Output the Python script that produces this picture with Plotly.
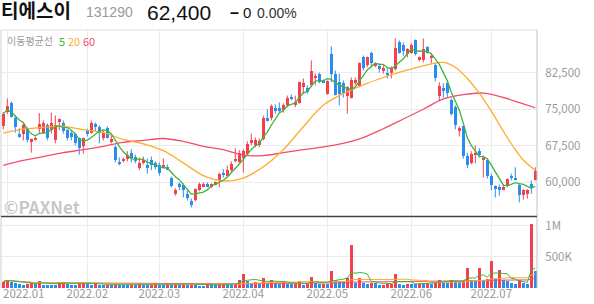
import plotly.graph_objects as go
import pandas as pd

# ---------------- data ----------------
month_labels = ["2022.01", "2022.02", "2022.03", "2022.04", "2022.05", "2022.06", "2022.07"]
month_start_idx = [1, 21, 39, 60, 81, 102, 122]

opens = [71500, 74500, 76200, 73300, 70000, 70000, 70900, 68200, 68800, 71000,
         70200, 71700, 70700, 68600, 72300, 72100, 70700, 70200, 70000, 69000,
         67400, 70700, 70200, 71900, 71300, 69000, 71100, 68200, 67200, 64100,
         64300, 64900, 66100, 65300, 62900, 63900, 63500, 64500, 63900, 63500,
         63100, 63100, 61000, 57700, 59600, 59400, 57700, 56100, 56300, 58400,
         59200, 59600, 59200, 59600, 60400, 62000, 61400, 62500, 64300, 64100,
         65100, 65900, 68000, 67600, 67600, 68800, 73100, 73100, 75200, 75200,
         74800, 75800, 77400, 76000, 76200, 79500, 79300, 79900, 81500, 82300,
         80900, 78200, 86400, 82300, 80500, 80300, 77800, 77200, 80300, 79700,
         85600, 84000, 86600, 84000, 83800, 82900, 82300, 82500, 83200, 88700,
         88100, 86400, 86600, 89100, 85200, 85000, 87700, 85400, 84000, 77800,
         79300, 80300, 76800, 75400, 70500, 71500, 65500, 63900, 65700, 66400,
         64700, 64500, 61400, 59200, 59000, 58600, 59400, 61400, 61000, 59400,
         57500, 57700, 59600, 60400]
highs = [74400, 77200, 76600, 73700, 71100, 72100, 71300, 69000, 69400, 74200,
         72700, 72100, 74300, 73700, 73100, 72700, 70900, 70700, 70200, 69200,
         69200, 71000, 72700, 72300, 71700, 70700, 71500, 69600, 67600, 65100,
         65100, 66400, 66800, 65700, 65100, 65300, 64900, 65300, 64300, 64100,
         64900, 63700, 61200, 58800, 60000, 59800, 58400, 56700, 58800, 60000,
         60000, 60000, 59800, 60200, 62000, 62700, 63500, 64300, 67000, 66600,
         66800, 68400, 70000, 69200, 69000, 73700, 75000, 76000, 76000, 76400,
         76200, 77800, 78000, 77800, 80600, 81300, 79900, 85000, 82300, 82500,
         81100, 80900, 87900, 82900, 82300, 80900, 79700, 81500, 81500, 84600,
         86000, 85800, 86800, 84600, 84400, 84000, 83400, 83800, 89500, 89100,
         88700, 87500, 88500, 89300, 85800, 89500, 87900, 86400, 84400, 80500,
         80300, 80700, 77200, 75800, 71500, 71700, 66100, 66400, 67600, 67000,
         65500, 64700, 61800, 59400, 59600, 59600, 60800, 61800, 63100, 59800,
         58600, 58600, 60400, 63100]
lows = [70900, 74000, 73300, 70200, 69200, 68600, 68200, 66100, 68600, 70000,
        70000, 68600, 70000, 68000, 70700, 70000, 68600, 68600, 67600, 65700,
        65900, 69400, 70000, 70500, 68000, 68600, 69000, 68000, 64100, 63500,
        64100, 64300, 64100, 63900, 62500, 63700, 61800, 62500, 62700, 61400,
        62900, 62500, 59000, 57300, 58400, 56900, 56300, 54900, 56100, 58200,
        59000, 59000, 58800, 59400, 59000, 61000, 61000, 62000, 64100, 63900,
        62000, 65700, 67600, 67200, 67200, 68600, 72500, 72700, 74100, 74300,
        74300, 75400, 76800, 75400, 76100, 78200, 78200, 79700, 79900, 80300,
        80300, 78000, 80500, 77800, 75800, 77400, 74100, 77200, 79900, 79500,
        82900, 83600, 83600, 83600, 82500, 82300, 81300, 81300, 82900, 86400,
        86000, 85600, 86400, 86000, 84800, 84600, 86400, 84400, 80700, 76600,
        77400, 77400, 73700, 70900, 69400, 64900, 62900, 63700, 63900, 65100,
        61000, 60800, 58400, 56900, 57300, 58400, 59000, 60400, 60400, 55900,
        56500, 56700, 57700, 60400]
closes = [74100, 75600, 73500, 71300, 69400, 71700, 68600, 68800, 69200, 71900,
          72100, 69000, 72100, 71700, 72900, 70500, 69000, 69400, 68000, 67000,
          69000, 70000, 72100, 71300, 70200, 70200, 69200, 68800, 64500, 63900,
          64900, 65700, 65100, 64300, 63900, 64500, 62900, 63500, 63100, 62000,
          63500, 62700, 59200, 58400, 59000, 58400, 56900, 55300, 58600, 59600,
          59600, 59200, 59600, 60000, 61800, 61600, 62500, 63700, 64900, 66100,
          66400, 67800, 68600, 68600, 68400, 73300, 72700, 75600, 74800, 74800,
          75800, 77400, 77200, 76400, 80500, 80300, 78600, 82900, 81700, 80500,
          80500, 80700, 82300, 78000, 78200, 78400, 79500, 80900, 80900, 84400,
          83400, 85600, 84400, 84400, 83200, 83400, 82100, 83400, 87500, 86600,
          87000, 87300, 88100, 86400, 85600, 87300, 86600, 86000, 81300, 79700,
          78900, 78400, 74100, 71700, 71100, 65500, 63500, 65900, 66100, 65700,
          65100, 61400, 59400, 58800, 58600, 59000, 60600, 61000, 60600, 57500,
          58400, 58400, 59200, 62400]
volume_k = [98, 136, 100, 82, 65, 54, 72, 80, 60, 110, 58, 55, 52, 50, 95, 102, 60, 58, 55, 78, 85,
            60, 55, 70, 48, 45, 52, 50, 58, 56, 54, 52, 55, 50, 60, 52, 50, 55, 65,
            55, 50, 62, 58, 72, 55, 60, 52, 64, 45, 42, 40, 50, 45, 44, 55, 62, 60, 50, 70, 135,
            235, 110, 90, 95, 70, 170, 75, 135, 80, 70, 110, 65, 60, 62, 109, 50, 60, 174, 80, 60, 70,
            60, 272, 125, 120, 110, 163, 695, 90, 163, 85, 75, 80, 78, 55, 55, 70, 70, 233, 60, 52, 70,
            65, 60, 75, 70, 80, 62, 100, 136, 90, 85, 130, 110, 95, 120, 321, 140, 110, 321, 130, 150,
            440, 150, 288, 130, 115, 80, 75, 130, 80, 75, 1040, 272]

# 20- and 60-day moving averages (index, value)
ma20_idx = [0, 5, 10, 15, 20, 25, 30, 35, 40, 45, 50, 55, 60, 65, 70, 75, 80, 85, 90, 95,
            100, 105, 110, 113, 116, 119, 122, 125, 128, 130, 133]
ma20_val = [70100, 70900, 71300, 71500, 70800, 70200, 68800, 67900, 66500, 64000, 61400, 60300,
            60900, 63200, 66700, 71400, 75800, 78200, 80000, 81500, 82800, 83900, 84600, 83600,
            81300, 78300, 74600, 70500, 66700, 64600, 62500]
ma60_idx = [0, 5, 10, 15, 20, 25, 30, 35, 40, 45, 50, 55, 60, 65, 70, 75, 80, 85, 90, 95,
            100, 105, 110, 115, 120, 125, 130, 133]
ma60_val = [63500, 64500, 65300, 66100, 66700, 67400, 68200, 68600, 69000, 68400, 67400, 66700,
            65600, 65500, 66100, 66700, 67300, 68000, 69200, 71000, 73000, 75000, 77100, 78000,
            78300, 77400, 76100, 75300]

price_ticks = [60000, 67500, 75000, 82500]
price_tick_text = ["60,000", "67,500", "75,000", "82,500"]
vol_ticks = [500, 1000]
vol_tick_text = ["500K", "1M"]

# ---------------- styling ----------------
RED = "#f3404e"
BLUE = "#2a8def"
GREEN = "#3bb53b"
ORANGE = "#ffab2e"
PINK = "#f44d6c"
GRID = "#ececec"
TICK = "#9b9b9b"
FONT = "Noto Sans CJK KR"
TFONT = "Liberation Sans, Noto Sans CJK KR"

W, H = 594, 304
ML, MR, MT, MB = 1, 57, 30, 16
PH = H - MT - MB
PW = W - ML - MR


def py(pix):
    return (H - MB - pix) / PH


def pxx(pix):
    return (pix - ML) / PW


n = len(closes)
idx = list(range(n))
up = [c >= o for o, c in zip(opens, closes)]
cand_col = [RED if u else BLUE for u in up]
body_base = [min(o, c) for o, c in zip(opens, closes)]
body_h = [max(abs(c - o), 160) for o, c in zip(opens, closes)]

ma5 = pd.Series(closes).rolling(5, min_periods=1).mean().tolist()
vs = pd.Series(volume_k)
vma5 = vs.rolling(5, min_periods=1).mean().tolist()
vma20 = vs.rolling(20, min_periods=1).mean().tolist()
vma60 = vs.rolling(60, min_periods=1).mean().tolist()
vol_col = [RED] + [RED if volume_k[i] >= volume_k[i - 1] else BLUE for i in range(1, n)]

fig = go.Figure()

# wicks
for colr, flag in ((RED, True), (BLUE, False)):
    wx, wy = [], []
    for i in idx:
        if up[i] == flag:
            wx += [i, i, None]
            wy += [lows[i], highs[i], None]
    fig.add_trace(go.Scatter(x=wx, y=wy, mode="lines", line=dict(color=colr, width=1),
                             hoverinfo="skip", showlegend=False, xaxis="x", yaxis="y"))

# bodies
fig.add_trace(go.Bar(x=idx, y=body_h, base=body_base, width=0.72, marker=dict(color=cand_col, line=dict(width=0)),
                     showlegend=False, xaxis="x", yaxis="y"))

# price moving averages
fig.add_trace(go.Scatter(x=ma60_idx, y=ma60_val, mode="lines", line=dict(color=PINK, width=1.3, shape="spline"),
                         showlegend=False, xaxis="x", yaxis="y"))
fig.add_trace(go.Scatter(x=ma20_idx, y=ma20_val, mode="lines", line=dict(color=ORANGE, width=1.3, shape="spline"),
                         showlegend=False, xaxis="x", yaxis="y"))
fig.add_trace(go.Scatter(x=idx, y=ma5, mode="lines", line=dict(color=GREEN, width=1.3),
                         showlegend=False, xaxis="x", yaxis="y"))

# volume
fig.add_trace(go.Bar(x=idx, y=volume_k, width=0.72, marker=dict(color=vol_col, line=dict(width=0)),
                     showlegend=False, xaxis="x2", yaxis="y2"))
for vals, colr in ((vma60, PINK), (vma20, ORANGE), (vma5, GREEN)):
    fig.add_trace(go.Scatter(x=idx, y=vals, mode="lines", line=dict(color=colr, width=1),
                             showlegend=False, xaxis="x2", yaxis="y2"))

price_dom = [py(216.5), 1]
vol_dom = [0, py(217.5)]
xr = [-0.575, 133.425]

fig.update_layout(
    width=W, height=H, margin=dict(l=ML, r=MR, t=MT, b=MB),
    paper_bgcolor="white", plot_bgcolor="white",
    font=dict(family=FONT, color=TICK, size=11),
    bargap=0,
    xaxis=dict(domain=[0, 1], range=xr, anchor="y", tickvals=month_start_idx, showticklabels=False,
               showgrid=True, gridcolor=GRID, gridwidth=1, zeroline=False, showline=False, ticks=""),
    xaxis2=dict(domain=[0, 1], range=xr, anchor="y2", matches="x", tickvals=month_start_idx[1:],
                ticktext=month_labels[1:], showgrid=True, gridcolor=GRID, gridwidth=1, zeroline=False,
                showline=False, ticks="", ticklabelstandoff=-3,
                tickfont=dict(family=FONT, size=11.5, color=TICK)),
    yaxis=dict(domain=price_dom, range=[53013, 91234], side="right", anchor="x",
               tickvals=price_ticks, ticktext=price_tick_text, showgrid=True, gridcolor=GRID,
               zeroline=False, showline=False, ticks="outside", ticklen=5, tickcolor="rgba(0,0,0,0)",
               tickfont=dict(family=FONT, size=11.5, color=TICK)),
    yaxis2=dict(domain=vol_dom, range=[-5, 1133], side="right", anchor="x2",
                tickvals=vol_ticks, ticktext=vol_tick_text, showgrid=True, gridcolor=GRID,
                zeroline=False, showline=False, ticks="outside", ticklen=5, tickcolor="rgba(0,0,0,0)",
                tickfont=dict(family=FONT, size=11.5, color=TICK)),
)

shapes = [
    dict(type="line", xref="paper", yref="paper", x0=0, x1=1, y0=1, y1=1, line=dict(color="#dedede", width=1)),
    dict(type="line", xref="paper", yref="paper", x0=0, x1=0, y0=0, y1=1, line=dict(color="#cfcfcf", width=1)),
    dict(type="line", xref="paper", yref="paper", x0=1, x1=1, y0=0, y1=1, line=dict(color="#c4c4c4", width=1)),
    dict(type="line", xref="paper", yref="paper", x0=0, x1=1, y0=py(216.5), y1=py(216.5),
         line=dict(color="#444444", width=1.5)),
]
fig.update_layout(shapes=shapes)

ann = []


def txt(text, xpix, ypix, size, color, family=FONT):
    ann.append(dict(text=text, x=pxx(xpix), y=py(ypix), xref="paper", yref="paper", xanchor="left",
                    yanchor="middle", showarrow=False, borderpad=0,
                    font=dict(size=size, color=color, family=family)))


txt("<b>티에스이</b>", 0, 11.5, 19, "#111111", TFONT)
txt("131290", 85, 12, 14, "#9a9a9a", TFONT)
txt("62,400", 146, 12, 21, "#111111", TFONT)
txt("<b>–</b>", 229, 12, 16, "#111111", TFONT)
txt("0", 242, 12.5, 15, "#111111", TFONT)
txt("0.00%", 256, 12.5, 14, "#333333", TFONT)
txt("이동평균선", 6, 41, 10, "#9a9a9a")
txt("5", 58, 41, 11, GREEN)
txt("20", 67, 41, 11, ORANGE)
txt("60", 82, 41, 11, PINK)
txt("<b>©PAXNet</b>", 3, 206, 17, "rgba(150,150,150,0.55)")
txt(month_labels[0], 2, 293, 11.5, TICK)
fig.update_layout(annotations=ann)

fig.write_html("out.html")
